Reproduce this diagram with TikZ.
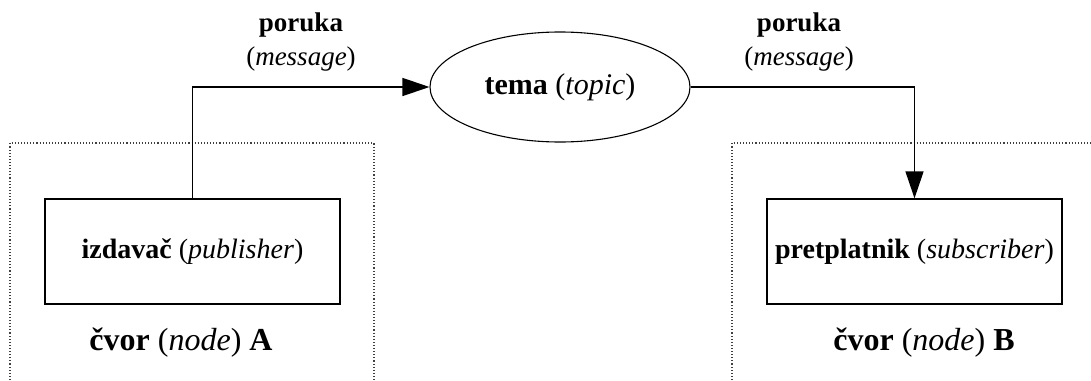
\documentclass[tikz,border=0pt]{standalone}
\usepackage{fontspec}
\setmainfont{Liberation Serif}
\usetikzlibrary{arrows.meta,shapes.geometric}
\tikzset{
  box/.style={draw=black, line width=1.3pt, minimum width=295pt, minimum height=105pt, inner sep=0pt, font=\fontsize{28}{34}\selectfont},
  topicnode/.style={draw=black, line width=1.1pt, ellipse, minimum width=260pt, minimum height=110pt, inner sep=0pt, font=\fontsize{30}{36}\selectfont},
  msg/.style={align=center, inner sep=0pt, font=\fontsize{27}{34}\selectfont},
  nodelabel/.style={inner sep=0pt, font=\fontsize{32}{38}\selectfont},
  arr/.style={draw=black, line width=1.4pt, -{Triangle[length=27pt,width=18pt]}},
  region/.style={draw=black!75, line width=1.1pt, dotted}
}
\begin{document}
\begin{tikzpicture}[x=1pt,y=-1pt]
\useasboundingbox (0,0) rectangle (1091,380);
% dotted node regions
\draw[region] (10,380) -- (10,143) -- (374,143) -- (374,380);
\draw[region] (732,380) -- (732,143) -- (1091,143);
% nodes
\node[topicnode] (tema) at (560,87) {\textbf{tema} (\textit{topic})};
\node[box] (pub) at (192.5,251.5) {\textbf{izdavač} (\textit{publisher})};
\node[box] (sub) at (914.5,251.5) {\textbf{pretplatnik} (\textit{subscriber})};
\node[nodelabel] (lblA) at (181,343) {\textbf{čvor} (\textit{node}) \textbf{A}};
\node[nodelabel] (lblB) at (924,343) {\textbf{čvor} (\textit{node}) \textbf{B}};
\node[msg] (msgL) at (301,42) {\textbf{poruka}\\(\textit{message})};
\node[msg] (msgR) at (799,42) {\textbf{poruka}\\(\textit{message})};
% connectors
\draw[arr] (pub.north) |- (tema.west);
\draw[arr] (tema.east) -| (sub.north);
\end{tikzpicture}
\end{document}
